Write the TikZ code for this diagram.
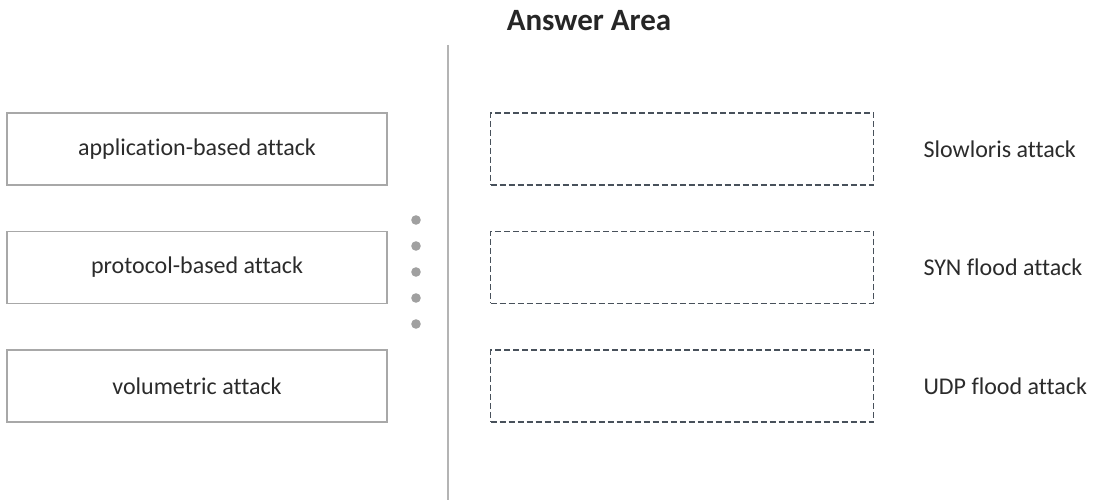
\documentclass[tikz,border=0pt]{standalone}
\usepackage{fontspec}
\setmainfont{Carlito}[Ligatures=NoCommon]
\usepackage{xcolor}
\usepackage{tikz}
\usetikzlibrary{positioning}

\definecolor{boxgray}{HTML}{A8A8A8}
\definecolor{slotgray}{HTML}{48515B}
\definecolor{textgray}{HTML}{2B2B2B}
\definecolor{dotgray}{HTML}{A0A0A0}
\definecolor{rulegray}{HTML}{B4B4B4}

\begin{document}
\begin{tikzpicture}[
  x=1pt, y=-1pt,
  font=\fontsize{24}{28}\selectfont, text=textgray,
  choice/.style={rectangle, draw=boxgray, line width=1.4pt, minimum width=380pt, minimum height=72pt, inner sep=0pt},
  slot/.style={rectangle, draw=slotgray, line width=1.6pt, dash pattern=on 6pt off 3pt, minimum width=383pt, minimum height=72pt, inner sep=0pt},
  label/.style={anchor=west, inner sep=0pt}
]
\useasboundingbox (0,0) rectangle (1096,500);

% title and divider
\node[font=\fontsize{31}{35}\bfseries, text=black!85] (title) at (589,21) {Answer Area};
\coordinate (divtop) at (448,45);
\coordinate (divbot) at (448,500);
\draw[rulegray, line width=1.6pt] (divtop) -- (divbot);

% choices on the left
\node[choice] (app) at (197,149) {application-based attack};
\node[choice, below=45pt of app] (proto) {protocol-based attack};
\node[choice, below=45pt of proto] (vol) {volumetric attack};

\foreach \y in {220,246,272,298,324}
  \fill[dotgray] (416,\y) circle (4.8pt);

% answer slots
\node[slot, right=102pt of app] (slotA) {};
\node[slot, right=102pt of proto] (slotB) {};
\node[slot, right=102pt of vol] (slotC) {};

\node[label, right=49pt of slotA] (slow) {Slowloris attack};
\node[label, right=49pt of slotB] (syn) {SYN flood attack};
\node[label, right=49pt of slotC] (udp) {UDP flood attack};

\end{tikzpicture}
\end{document}
